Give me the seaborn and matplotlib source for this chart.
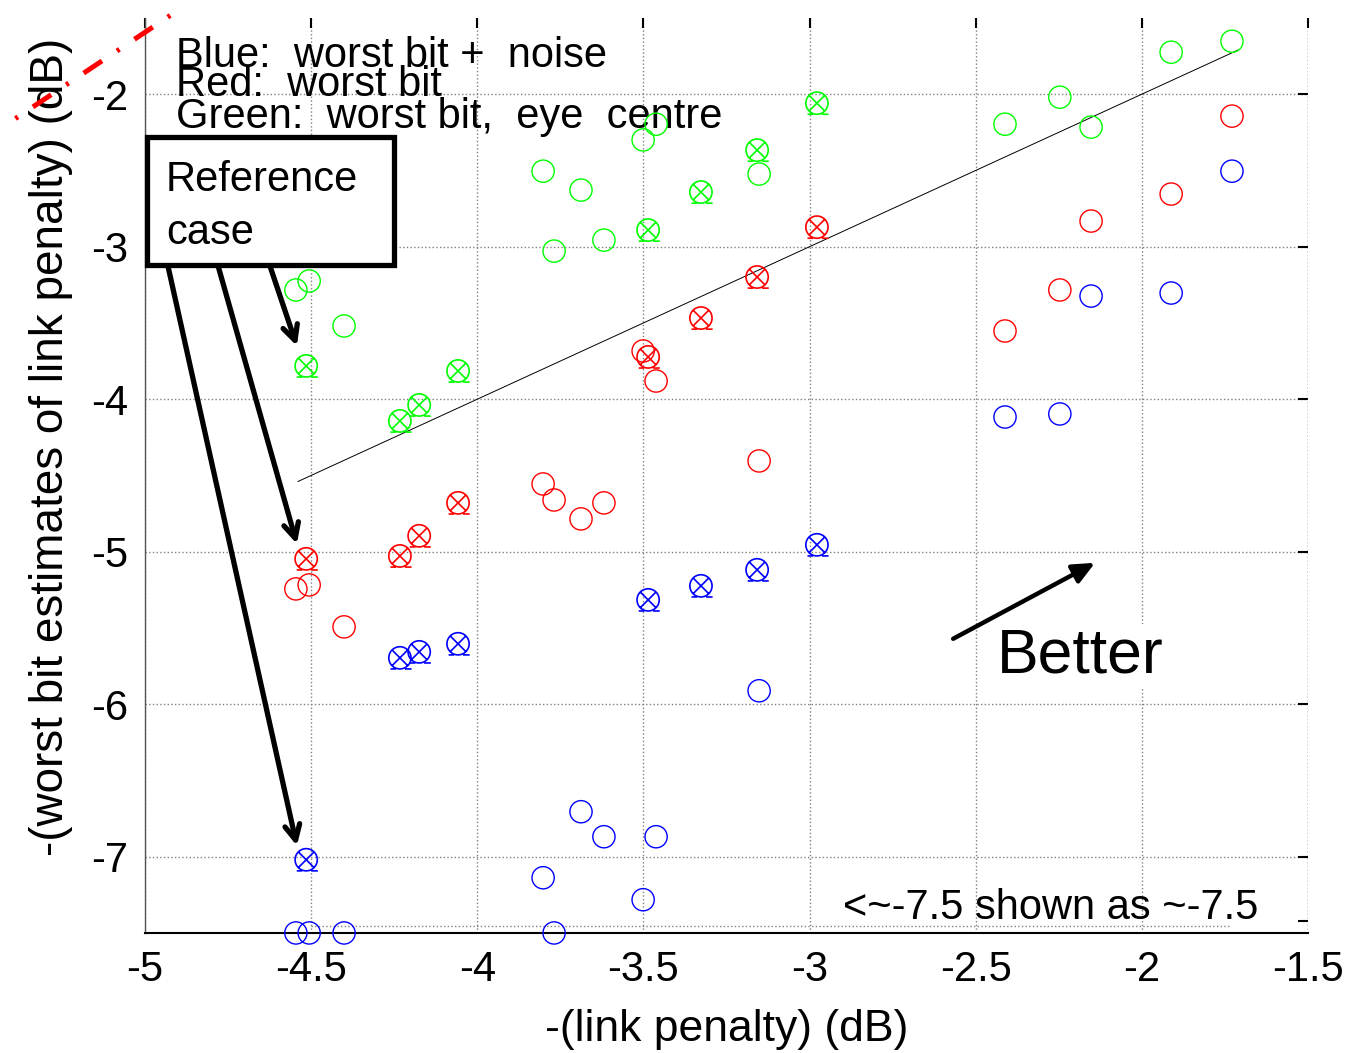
import matplotlib
matplotlib.use('Agg')
import matplotlib.pyplot as plt
import numpy as np
import pandas as pd
import seaborn as sns
from matplotlib.path import Path
from matplotlib.patches import Rectangle

# Scenarios without the reference marker (open circles)
x_open = [-4.546, -4.506, -4.401, -3.802, -3.769, -3.688, -3.619, -3.501,
          -3.462, -3.152, -2.412, -2.247, -2.153, -1.912, -1.729]
green_open = [-3.284, -3.225, -3.52, -2.505, -3.029, -2.629, -2.957, -2.30,
              -2.197, -2.524, -2.197, -2.02, -2.216, -1.725, -1.653]
red_open = [-5.244, -5.218, -5.493, -4.556, -4.661, -4.785, -4.68, -3.684,
            -3.881, -4.405, -3.553, -3.284, -2.832, -2.655, -2.144]
blue_open = [-7.5, -7.5, -7.5, -7.138, -7.5, -6.705, -6.869, -7.282,
             -6.869, -5.912, -4.117, -4.097, -3.324, -3.304, -2.505]

# Scenarios drawn with crossed circles
x_cross = [-4.515, -4.233, -4.175, -4.058, -3.486, -3.327, -3.158, -2.978]
green_cross = [-3.782, -4.143, -4.038, -3.815, -2.891, -2.642, -2.367, -2.059]
red_cross = [-5.047, -5.028, -4.896, -4.68, -3.723, -3.468, -3.199, -2.872]
blue_cross = [-7.02, -5.696, -5.657, -5.604, -5.316, -5.224, -5.119, -4.955]

x_ticks = [-5, -4.5, -4, -3.5, -3, -2.5, -2, -1.5]
x_tick_labels = ['-5', '-4.5', '-4', '-3.5', '-3', '-2.5', '-2', '-1.5']
y_ticks = [-7, -6, -5, -4, -3, -2]
y_tick_labels = ['-7', '-6', '-5', '-4', '-3', '-2']

diag_x = [-4.54, -1.71]

sns.set_theme(style="white")
plt.rcParams['font.family'] = ['Liberation Sans', 'DejaVu Sans']
plt.rcParams['text.color'] = 'black'
plt.rcParams['axes.labelcolor'] = 'black'
plt.rcParams['xtick.color'] = 'black'
plt.rcParams['ytick.color'] = 'black'

fig = plt.figure(figsize=(13.72, 10.53), dpi=100)
ax = fig.add_axes([0.1057, 0.114, 0.8477, 0.869])

# circle with a cross and two little dashes underneath
verts, codes = [], []
circ = Path.unit_circle()
verts += list(circ.vertices)
codes += list(circ.codes)
for seg in [((-0.7, -0.7), (0.7, 0.7)), ((-0.7, 0.7), (0.7, -0.7)),
            ((-0.85, -1.0), (-0.35, -1.0)), ((0.45, -1.0), (1.05, -1.0))]:
    verts += [seg[0], seg[1]]
    codes += [Path.MOVETO, Path.LINETO]
cross_marker = Path(verts, codes)

series = [
    (green_open, green_cross, (0, 1, 0)),
    (red_open, red_cross, (1, 0, 0)),
    (blue_open, blue_cross, (0, 0, 1)),
]
for y_o, y_c, col in series:
    sns.scatterplot(x=x_open, y=y_o, marker='o', s=256, facecolor='none',
                    edgecolor=col, linewidth=1.0, ax=ax, clip_on=False,
                    legend=False, zorder=4)
    sns.scatterplot(x=x_cross, y=y_c, marker=cross_marker, s=282,
                    facecolor='none', edgecolor=col, linewidth=1.2, ax=ax,
                    clip_on=False, legend=False, zorder=4)

# y = x guide line
ax.plot(diag_x, diag_x, color='black', lw=0.7, zorder=3)

ax.set_xlim(-5, -1.5)
ax.set_ylim(-7.5, -1.5)
ax.set_xticks(x_ticks)
ax.set_xticklabels(x_tick_labels)
ax.set_yticks(y_ticks)
ax.set_yticklabels(y_tick_labels)
ax.set_yticks([-7.42], minor=True)
ax.tick_params(axis='both', which='both', direction='in', length=7, width=1.5,
               color='black', labelsize=30, top=True, right=True, pad=12)
ax.grid(True, linestyle=':', color='#808080', lw=1.0)
for side in ['top', 'right']:
    ax.spines[side].set_visible(False)
ax.spines['left'].set_color('#555555')
ax.spines['left'].set_linewidth(1.0)
ax.spines['bottom'].set_color('black')
ax.spines['bottom'].set_linewidth(1.5)
# grid line at the right edge
ax.axvline(-1.5, color='#808080', linestyle=':', lw=1.0)

ax.set_xlabel('-(link penalty) (dB)', fontsize=32, labelpad=14)
ax.set_ylabel('-(worst bit estimates of link penalty) (dB)', fontsize=33)
ax.yaxis.set_label_coords(-0.062, 0.531)

# legend texts
ax.text(-4.907, -1.823, 'Blue:  worst bit +  noise', fontsize=30, va='baseline')
ax.text(-4.907, -2.013, 'Red:  worst bit', fontsize=30, va='baseline')
ax.text(-4.907, -2.223, 'Green:  worst bit,  eye  centre', fontsize=30, va='baseline')

# reference case box and arrows
ax.add_patch(Rectangle((-4.994, -3.121), 0.743, 0.839, fill=True, fc='white',
                       ec='black', lw=3.8, zorder=6, clip_on=False))
ax.text(-4.937, -2.636, 'Reference', fontsize=30, va='baseline', zorder=7)
ax.text(-4.937, -2.983, 'case', fontsize=30, va='baseline', zorder=7)
arrow_starts = [(-4.624, -3.127), (-4.780, -3.127), (-4.931, -3.127)]
arrow_ends = [(-4.543, -3.651), (-4.543, -4.949), (-4.543, -6.928)]
for (xs, ys), (xe, ye) in zip(arrow_starts, arrow_ends):
    ax.annotate('', xy=(xe, ye), xytext=(xs, ys),
                arrowprops=dict(arrowstyle='->,head_length=0.9,head_width=0.45',
                                lw=3.8, color='black', shrinkA=0, shrinkB=0),
                zorder=5)

# "Better" arrow
ax.annotate('', xy=(-2.141, -5.073), xytext=(-2.568, -5.571),
            arrowprops=dict(arrowstyle='-|>,head_length=1.1,head_width=0.5',
                            lw=3.2, color='black', shrinkA=0, shrinkB=0))
ax.text(-2.436, -5.794, 'Better', fontsize=45, va='baseline', zorder=5,
        bbox=dict(fc='white', ec='none', pad=2))

# floor note
ax.plot([-4.5, -1.735], [-7.452, -7.452], color='#808080', linestyle=':', lw=1.0)
ax.text(-2.9, -7.406, '<~-7.5 shown as ~-7.5', fontsize=30, va='baseline')

# red dash-dot line leaking past the top-left corner
ax.plot([-5.39, -4.88], [-2.16, -1.42], color='red', lw=3.6,
        dashes=(0.6, 3.6, 4.4, 3.6), clip_on=False, zorder=8)

fig.savefig('out.png', dpi=100)
